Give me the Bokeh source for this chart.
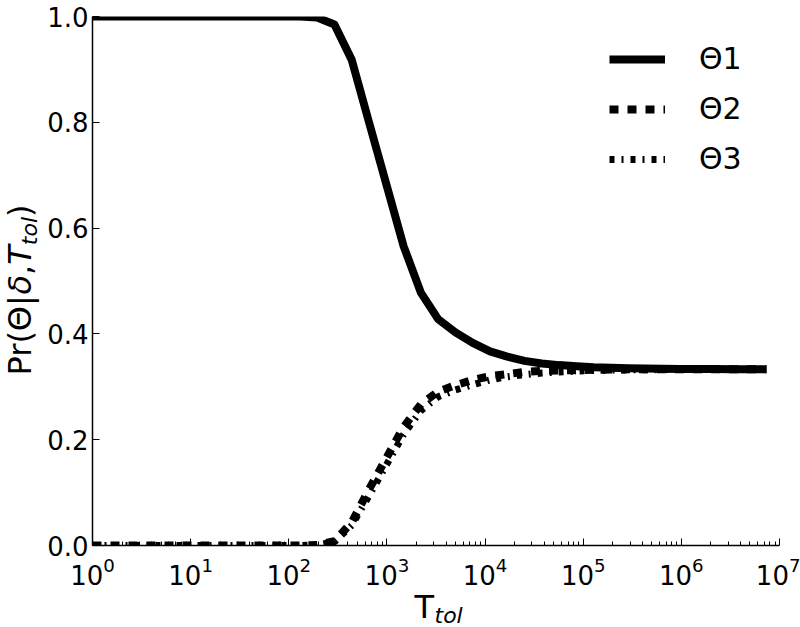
import math
from bokeh.plotting import figure
from bokeh.layouts import column, row
from bokeh.models import Legend, LegendItem, FixedTicker, PrintfTickFormatter
from bokeh.core.properties import value
from bokeh.embed import file_html
from bokeh.resources import INLINE

# ---- data ----
t_tol = [1, 1.5, 2.25, 3.375, 5.0625, 7.594, 11.39, 17.09, 25.63, 38.44,
         57.67, 86.5, 129.7, 194.6, 291.9, 437.9, 656.8, 985.3, 1478, 2217,
         3325, 4988, 7482, 11223, 16834, 25251, 37877, 56815, 85223, 127834,
         191751, 287627, 431440, 647160, 970740, 1456110, 2184164, 3276247,
         4914370, 7371555]

theta1 = [1.0, 1.0, 1.0, 1.0, 1.0, 1.0, 1.0, 1.0, 1.0, 1.0,
          1.0, 1.0, 1.0, 0.998, 0.985, 0.918, 0.800, 0.683, 0.566, 0.478,
          0.428, 0.403, 0.383, 0.367, 0.357, 0.349, 0.344, 0.341, 0.339, 0.337,
          0.336, 0.335, 0.3345, 0.3340, 0.3338, 0.3336, 0.3335, 0.3334, 0.3334, 0.3334]

theta2 = [0.0, 0.0, 0.0, 0.0, 0.0, 0.0, 0.0, 0.0, 0.0, 0.0,
          0.0, 0.0, 0.0, 0.001, 0.008, 0.044, 0.106, 0.165, 0.224, 0.267,
          0.291, 0.303, 0.313, 0.320, 0.324, 0.328, 0.330, 0.331, 0.3315, 0.332,
          0.3325, 0.333, 0.3333, 0.3333, 0.3333, 0.3333, 0.3333, 0.3333, 0.3333, 0.3333]

theta3 = [0.0, 0.0, 0.0, 0.0, 0.0, 0.0, 0.0, 0.0, 0.0, 0.0,
          0.0, 0.0, 0.0, 0.001, 0.007, 0.038, 0.094, 0.152, 0.210, 0.255,
          0.281, 0.294, 0.304, 0.313, 0.319, 0.323, 0.326, 0.328, 0.3295, 0.331,
          0.3315, 0.332, 0.3322, 0.3327, 0.3329, 0.3331, 0.3333, 0.3333, 0.3333, 0.3333]

x_major_ticks = [1, 10, 100, 1000, 10000, 100000, 1000000, 10000000]
x_minor_mults = [2, 3, 4, 5, 6, 7, 8, 9]
y_ticks = [0.0, 0.2, 0.4, 0.6, 0.8, 1.0]
series_labels = ["\u03981", "\u03982", "\u03983"]

FONT = "DejaVu Sans"
TOP, BOTTOM = 16, 50          # borders of the main figure
H = 595                       # height of main figure and y-label panel
FRAME_H = H - TOP - BOTTOM
OVERLAP = 20                  # x-label panel slides up under the tick-label area

# ---------------- main plot ----------------
p = figure(width=756, height=H, x_axis_type="log",
           x_range=(1, 1e7), y_range=(0, 1),
           output_backend="svg", toolbar_location=None,
           min_border_left=48, min_border_right=21,
           min_border_top=TOP, min_border_bottom=BOTTOM)
p.outline_line_color = None
p.grid.visible = False
p.background_fill_color = "white"
p.border_fill_color = "white"

r1 = p.line(t_tol, theta1, line_color="black", line_width=8, line_join="round")
r2 = p.line(t_tol, theta2, line_color="black", line_width=8, line_dash="9 9")
r3 = p.line(t_tol, theta3, line_color="black", line_width=7, line_dash="5 7 2 7")

minor = [m * d for d in x_major_ticks[:-1] for m in x_minor_mults]
p.xaxis.ticker = FixedTicker(ticks=x_major_ticks, minor_ticks=minor)
p.yaxis.ticker = FixedTicker(ticks=y_ticks)
p.yaxis.formatter = PrintfTickFormatter(format="%.1f")

for ax in (p.xaxis, p.yaxis):
    ax.axis_line_color = "black"
    ax.axis_line_width = 1.5
    ax.major_tick_line_color = "black"
    ax.major_tick_line_width = 1
    ax.major_tick_in = 7
    ax.major_tick_out = 0
    ax.minor_tick_line_color = "black"
    ax.minor_tick_in = 4
    ax.minor_tick_out = 0
    ax.major_label_text_font = FONT
    ax.major_label_text_font_size = "26px"
    ax.major_label_text_color = "black"
p.yaxis.minor_tick_line_color = None
p.yaxis.major_label_standoff = 4
p.xaxis.major_label_standoff = 11

legend = Legend(items=[LegendItem(label=series_labels[0], renderers=[r1]),
                       LegendItem(label=series_labels[1], renderers=[r2]),
                       LegendItem(label=series_labels[2], renderers=[r3])],
                location=(517, 369), orientation="vertical",
                glyph_width=56, glyph_height=30, label_height=30,
                label_standoff=34, spacing=15, padding=10,
                label_text_font=FONT, label_text_font_size="30px",
                label_text_color="black",
                border_line_color=None, background_fill_alpha=0)
p.add_layout(legend)


def text_panel(w, h, top=0, bottom=0, yspan=None, transparent=False):
    f = figure(width=w, height=h, x_range=(0, w),
               y_range=(0, yspan if yspan is not None else h),
               output_backend="svg", toolbar_location=None,
               x_axis_location=None, y_axis_location=None,
               min_border=0, min_border_left=0, min_border_right=0,
               min_border_top=top, min_border_bottom=bottom)
    f.outline_line_color = None
    f.grid.visible = False
    if transparent:
        f.background_fill_alpha = 0
        f.border_fill_alpha = 0
    else:
        f.background_fill_color = "white"
        f.border_fill_color = "white"
    return f


def put(f, x, y, txt, size, style="normal", angle=0.0):
    f.text(x=[x], y=[y], text=[txt], angle=angle,
           text_font=value(FONT), text_font_size=value(size),
           text_font_style=value(style), text_color="black",
           text_align="left", text_baseline=value("middle"))


# ---------------- y label panel: Pr(Θ|δ,T_tol) ----------------
# panel frame matches the main frame; y is measured up from the frame bottom
ylab = text_panel(44, H, top=TOP, bottom=BOTTOM, yspan=FRAME_H)
A = math.pi / 2
bx = 19
put(ylab, bx, 170.0, "Pr(\u0398|", "32px", "normal", A)
put(ylab, bx, 250.9, "\u03b4", "32px", "italic", A)
put(ylab, bx, 270.5, ",", "32px", "normal", A)
put(ylab, bx, 280.7, "T", "32px", "italic", A)
put(ylab, bx + 10, 300.3, "tol", "22px", "italic", A)
put(ylab, bx, 328.5, ")", "32px", "normal", A)

# ---------------- x label panel: T_tol ----------------
xlab = text_panel(800, 32 + OVERLAP, transparent=True)
xlab.margin = (-OVERLAP, 0, 0, 0)
put(xlab, 414, 21, "T", "32px", "normal")
put(xlab, 434, 12, "tol", "22px", "italic")

layout = column(row(ylab, p, spacing=0), xlab, spacing=0)

open("out.html", "w").write(file_html(layout, INLINE))
